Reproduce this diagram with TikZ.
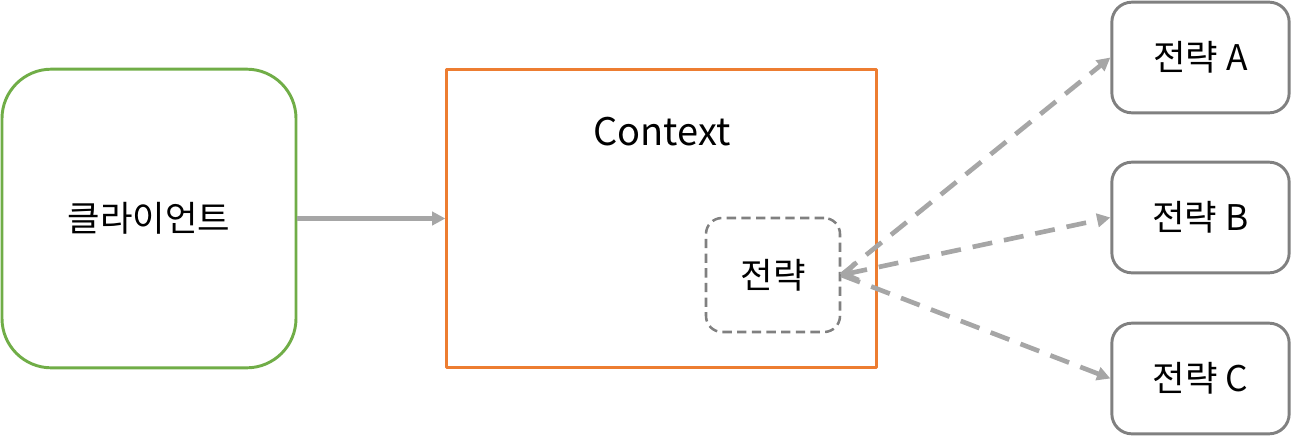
\documentclass[tikz,border=0pt]{standalone}
\usepackage{fontspec}
\setmainfont{Noto Sans CJK KR}
\usetikzlibrary{arrows.meta}
\definecolor{clientgreen}{HTML}{70AD47}
\definecolor{ctxorange}{HTML}{ED7D31}
\definecolor{linegray}{HTML}{A6A6A6}
\definecolor{boxgray}{HTML}{808080}
\begin{document}
\begin{tikzpicture}[x=0.75pt, y=-0.75pt, font=\fontsize{26.5}{30}\selectfont, line join=round,
  clientbox/.style={draw=clientgreen, line width=2.2pt, rounded corners=37pt, minimum width=220.5pt, minimum height=224pt},
  ctxbox/.style={draw=ctxorange, line width=2.2pt, minimum width=322pt, minimum height=224pt},
  innerbox/.style={draw=boxgray, line width=1.9pt, dash pattern=on 7pt off 4pt, rounded corners=12pt, minimum width=100.5pt, minimum height=85.5pt},
  stratbox/.style={draw=boxgray, line width=2.2pt, rounded corners=15pt, minimum width=133pt, minimum height=83pt},
  link/.style={draw=linegray, line width=3.5pt, -{Triangle[length=10pt,width=10pt]}},
  dlink/.style={link, dash pattern=on 15pt off 9pt}]
\useasboundingbox (0,0) rectangle (1291,439);
\node[clientbox] (client) at (149,218.5) {클라이언트};
\node[ctxbox] (ctx) at (661.5,218.5) {};
\node[font=\fontsize{28.5}{32}\selectfont] (ctxlabel) at (662,132) {Context};
\node[innerbox] (inner) at (773,275) {전략};
\node[stratbox] (sa) at (1200.5,57.5) {전략 A};
\node[stratbox] (sb) at (1200.5,217.5) {전략 B};
\node[stratbox] (sc) at (1200.5,378.5) {전략 C};
\draw[link] (client) -- (ctx);
\draw[dlink] (inner.east) -- (sa.west);
\draw[dlink, {Straight Barb[length=9pt,width=13pt]}-{Triangle[length=10pt,width=10pt]}] (inner.east) -- (sb.west);
\draw[dlink] (inner.east) -- (sc.west);
\end{tikzpicture}
\end{document}
